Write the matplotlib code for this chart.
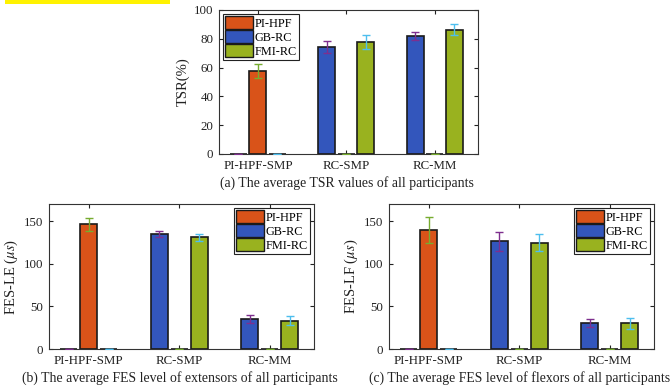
import matplotlib.pyplot as plt
import matplotlib.patches as mpatches
import numpy as np

plt.rcParams['font.family'] = ['Liberation Serif', 'DejaVu Serif']
plt.rcParams['mathtext.fontset'] = 'stix'

groups = ['PI-HPF-SMP', 'RC-SMP', 'RC-MM']
methods = ['PI-HPF', 'GB-RC', 'FMI-RC']

# order inside each group: GB-RC, PI-HPF, FMI-RC
tsr_mean = {'PI-HPF': [57.8, 0, 0], 'GB-RC': [0, 74.5, 82.2], 'FMI-RC': [0, 77.8, 86.4]}
tsr_err = {'PI-HPF': [5.0, 0, 0], 'GB-RC': [0, 4.3, 2.7], 'FMI-RC': [0, 5.0, 4.0]}

le_mean = {'PI-HPF': [146, 0, 0], 'GB-RC': [0, 135.2, 34.7], 'FMI-RC': [0, 131.2, 33.2]}
le_err = {'PI-HPF': [7.5, 0, 0], 'GB-RC': [0, 3.5, 4.7], 'FMI-RC': [0, 4.0, 5.2]}

lf_mean = {'PI-HPF': [139.5, 0, 0], 'GB-RC': [0, 126.4, 30.7], 'FMI-RC': [0, 124.8, 30.0]}
lf_err = {'PI-HPF': [15.0, 0, 0], 'GB-RC': [0, 11.0, 5.0], 'FMI-RC': [0, 10.3, 6.5]}

bar_colors = {'PI-HPF': '#D95319', 'GB-RC': '#3356BC', 'FMI-RC': '#99B21F'}
err_colors = {'PI-HPF': '#77AC30', 'GB-RC': '#7E2F8E', 'FMI-RC': '#4DBEEE'}
offsets = {'GB-RC': -0.22, 'PI-HPF': 0.0, 'FMI-RC': 0.22}


def draw_panel(ax, means, errs, ylim, yticks, ylabel, caption, legend_loc):
    x = np.arange(1, len(groups) + 1)
    for m in ['PI-HPF', 'GB-RC', 'FMI-RC']:
        xs = x + offsets[m]
        ax.bar(xs, means[m], width=0.19, color=bar_colors[m], edgecolor='#1a1a1a',
               linewidth=1.2, zorder=2)
        ax.errorbar(xs, means[m], yerr=errs[m], fmt='none', ecolor=err_colors[m],
                    elinewidth=1.0, capsize=3, capthick=1.0, zorder=3)
    ax.set_xlim(0.56, 3.49)
    ax.set_ylim(*ylim)
    ax.set_yticks(yticks)
    ax.set_xticks(x)
    ax.set_xticklabels(groups)
    ax.tick_params(direction='in', top=True, right=True, labelsize=9.3, length=3,
                   colors='#222222', labelcolor='#222222', pad=4)
    for s in ax.spines.values():
        s.set_color('#333333')
        s.set_linewidth(0.8)
    ax.set_ylabel(ylabel, fontsize=10.5, color='#222222', labelpad=3)
    handles = [mpatches.Patch(facecolor=bar_colors[m], edgecolor='#1a1a1a', linewidth=1.0, label=m)
               for m in methods]
    leg = ax.legend(handles=handles, loc=legend_loc, fontsize=8.8, fancybox=False,
                    edgecolor='#222222', framealpha=1, handlelength=2.3, handleheight=1.25,
                    handletextpad=0.12, labelspacing=0.05, borderpad=0.2, borderaxespad=0.3)
    leg.get_frame().set_linewidth(0.8)
    leg.set_zorder(5)
    pos = ax.get_position()
    fig.text((pos.x0 + pos.x1) / 2 - 2 / W, pos.y0 - 29 / H, caption, ha='center', va='center',
             fontsize=9.9, color='#222222')


fig = plt.figure(figsize=(6.71, 3.87), dpi=100)
W, H = 671.0, 387.0

fig.patches.append(mpatches.Rectangle((5 / W, 1 - 4 / H), 165 / W, 4 / H, transform=fig.transFigure,
                                      facecolor='#FFF200', edgecolor='none'))

ax_a = fig.add_axes([219 / W, 1 - 154 / H, 259 / W, 144 / H])
ax_b = fig.add_axes([49 / W, 1 - 349 / H, 265 / W, 145 / H])
ax_c = fig.add_axes([389 / W, 1 - 349 / H, 265 / W, 145 / H])

draw_panel(ax_a, tsr_mean, tsr_err, (0, 100), [0, 20, 40, 60, 80, 100], 'TSR(%)',
           '(a) The average TSR values of all participants', 'upper left')
draw_panel(ax_b, le_mean, le_err, (0, 170), [0, 50, 100, 150], r'FES-LE ($\mu s$)',
           '(b) The average FES level of extensors of all participants', 'upper right')
draw_panel(ax_c, lf_mean, lf_err, (0, 170), [0, 50, 100, 150], r'FES-LF ($\mu s$)',
           '(c) The average FES level of flexors of all participants', 'upper right')

fig.savefig('out.png', dpi=100)
